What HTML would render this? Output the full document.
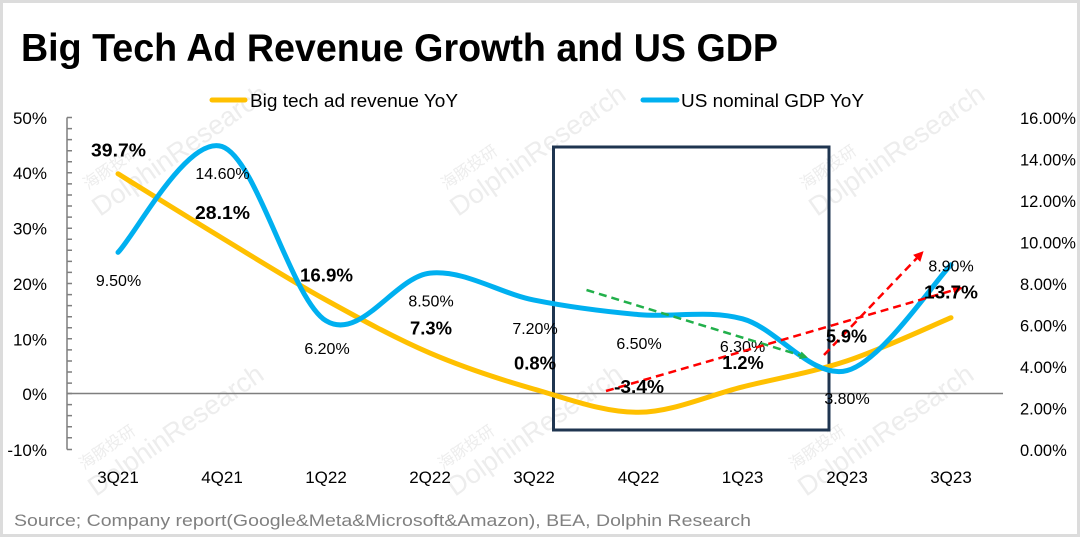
<!DOCTYPE html>
<html><head><meta charset="utf-8"><style>
html,body{margin:0;padding:0;background:#fff;}
svg{display:block;}
text{font-family:"Liberation Sans","Noto Sans CJK SC",sans-serif;}
</style></head><body>
<svg width="1080" height="537" viewBox="0 0 1080 537" xmlns="http://www.w3.org/2000/svg">
<rect x="0" y="0" width="1080" height="537" fill="#fff"/>
<rect x="1.5" y="1.5" width="1077" height="534" fill="none" stroke="#dcdcdc" stroke-width="3"/>

<!-- watermarks -->
<g fill="#ededed" font-size="27">
  <text transform="translate(100,217) rotate(-35)">DolphinResearch</text>
  <text transform="translate(458,217) rotate(-35)">DolphinResearch</text>
  <text transform="translate(817,217) rotate(-35)">DolphinResearch</text>
  <text transform="translate(96,497) rotate(-35)">DolphinResearch</text>
  <text transform="translate(455,497) rotate(-35)">DolphinResearch</text>
  <text transform="translate(806,497) rotate(-35)">DolphinResearch</text>
</g>
<g fill="#ededed" font-size="16">
  <text transform="translate(88,190) rotate(-35)">海豚投研</text>
  <text transform="translate(446,190) rotate(-35)">海豚投研</text>
  <text transform="translate(805,190) rotate(-35)">海豚投研</text>
  <text transform="translate(84,470) rotate(-35)">海豚投研</text>
  <text transform="translate(443,470) rotate(-35)">海豚投研</text>
  <text transform="translate(794,470) rotate(-35)">海豚投研</text>
</g>

<!-- title -->
<text x="21" y="61" font-size="39" font-weight="bold" fill="#000" textLength="757" lengthAdjust="spacingAndGlyphs">Big Tech Ad Revenue Growth and US GDP</text>

<!-- legend -->
<line x1="212" y1="100" x2="245" y2="100" stroke="#FFC000" stroke-width="5" stroke-linecap="round"/>
<text x="250" y="107" font-size="18" fill="#000" textLength="208" lengthAdjust="spacingAndGlyphs">Big tech ad revenue YoY</text>
<line x1="643" y1="100" x2="677" y2="100" stroke="#00B0F0" stroke-width="5" stroke-linecap="round"/>
<text x="681" y="107" font-size="18" fill="#000" textLength="183" lengthAdjust="spacingAndGlyphs">US nominal GDP YoY</text>

<!-- left axis labels -->
<g font-size="17" fill="#000" text-anchor="end">
  <text x="47" y="124">50%</text>
  <text x="47" y="179">40%</text>
  <text x="47" y="234.5">30%</text>
  <text x="47" y="290">20%</text>
  <text x="47" y="345.5">10%</text>
  <text x="47" y="400">0%</text>
  <text x="47" y="456">-10%</text>
</g>
<!-- right axis labels -->
<g font-size="16.5" fill="#000">
  <text x="1020" y="124">16.00%</text>
  <text x="1020" y="165.5">14.00%</text>
  <text x="1020" y="207">12.00%</text>
  <text x="1020" y="248.5">10.00%</text>
  <text x="1020" y="290">8.00%</text>
  <text x="1020" y="331.5">6.00%</text>
  <text x="1020" y="373">4.00%</text>
  <text x="1020" y="414.5">2.00%</text>
  <text x="1020" y="456">0.00%</text>
</g>

<!-- left axis -->
<g stroke="#7f7f7f" stroke-width="1.5">
  <line x1="67" y1="117.5" x2="67" y2="449.5"/>
  <path d="M67,117.5h5M67,128.6h5M67,139.6h5M67,150.7h5M67,161.8h5M67,172.8h5M67,183.9h5M67,195h5M67,206h5M67,217.1h5M67,228.2h5M67,239.2h5M67,250.3h5M67,261.4h5M67,272.4h5M67,283.5h5M67,294.6h5M67,305.6h5M67,316.7h5M67,327.8h5M67,338.8h5M67,349.9h5M67,361h5M67,372h5M67,383.1h5M67,393.5h5M67,404.6h5M67,415.6h5M67,426.7h5M67,437.8h5M67,449.5h5"/>
  <line x1="67" y1="393.5" x2="1003" y2="393.5"/>
</g>

<!-- x labels -->
<g font-size="17" fill="#000" text-anchor="middle">
  <text x="118" y="483">3Q21</text>
  <text x="222" y="483">4Q21</text>
  <text x="326" y="483">1Q22</text>
  <text x="430" y="483">2Q22</text>
  <text x="534" y="483">3Q22</text>
  <text x="638.5" y="483">4Q22</text>
  <text x="742.5" y="483">1Q23</text>
  <text x="847" y="483">2Q23</text>
  <text x="951" y="483">3Q23</text>
</g>

<!-- source -->
<text x="14" y="526" font-size="17" fill="#808080" textLength="737" lengthAdjust="spacingAndGlyphs">Source; Company report(Google&amp;Meta&amp;Microsoft&amp;Amazon), BEA, Dolphin Research</text>

<!-- box -->
<rect x="553.5" y="147" width="275.5" height="283" fill="none" stroke="#1f3550" stroke-width="3"/>

<!-- gold series -->
<path d="M118,173.8 C135.33,184.5 187.33,217.0 222,238.0 C256.67,259.03 291.33,280.82 326,300.0 C360.67,319.18 395.33,338.25 430,353.1 C464.67,367.95 499.33,379.23 534,389.1 C568.67,398.97 603.83,412.67 638.5,412.3 C673.17,411.93 707.83,395.47 742.5,386.9 C777.17,378.33 812.33,372.43 847,360.9 C881.67,349.37 933.67,324.9 951,317.7" fill="none" stroke="#FFC000" stroke-width="5" stroke-linecap="round" stroke-linejoin="round"/>

<!-- blue series -->
<path d="M118,252.4 C135.33,234.75 187.33,135.1 222,146.5 C256.67,157.9 291.33,299.7 326,320.8 C360.67,341.9 395.33,276.55 430,273.1 C464.67,269.65 499.33,293.18 534,300.1 C568.67,307.02 603.83,311.48 638.5,314.6 C673.17,317.72 707.83,309.47 742.5,318.8 C777.17,328.13 812.33,379.6 847,370.6 C881.67,361.6 933.67,282.43 951,264.8" fill="none" stroke="#00B0F0" stroke-width="5" stroke-linecap="round" stroke-linejoin="round"/>

<!-- blue labels -->
<g font-size="16" fill="#000" text-anchor="middle">
  <text x="118.5" y="286">9.50%</text>
  <text x="222.5" y="179">14.60%</text>
  <text x="327" y="354">6.20%</text>
  <text x="431" y="306.5">8.50%</text>
  <text x="535" y="334">7.20%</text>
  <text x="639" y="349">6.50%</text>
  <text x="742.5" y="352">6.30%</text>
  <text x="847" y="404">3.80%</text>
  <text x="951" y="271.5">8.90%</text>
</g>

<!-- arrows -->
<defs>
  <marker id="ag" markerWidth="8" markerHeight="8" refX="6" refY="4" orient="auto" markerUnits="userSpaceOnUse">
    <path d="M0,0 L8,4 L0,8 z" fill="#22b04b"/>
  </marker>
  <marker id="ar" markerWidth="10" markerHeight="10" refX="7" refY="5" orient="auto" markerUnits="userSpaceOnUse">
    <path d="M0,0 L10,5 L0,10 z" fill="#ff0000"/>
  </marker>
</defs>
<line x1="586.5" y1="290" x2="806" y2="357" stroke="#22b04b" stroke-width="2.5" stroke-dasharray="8,5" marker-end="url(#ag)"/>
<line x1="606" y1="391" x2="960" y2="288.3" stroke="#ff0000" stroke-width="2.5" stroke-dasharray="8,5" marker-end="url(#ar)"/>
<line x1="824" y1="355" x2="921.5" y2="253.3" stroke="#ff0000" stroke-width="2.5" stroke-dasharray="8,5" marker-end="url(#ar)"/>

<!-- gold labels -->
<g font-size="18" font-weight="bold" fill="#000" text-anchor="middle">
  <text x="118.5" y="156.5" textLength="55" lengthAdjust="spacingAndGlyphs">39.7%</text>
  <text x="222.5" y="219" textLength="55" lengthAdjust="spacingAndGlyphs">28.1%</text>
  <text x="326.5" y="281.5" textLength="53" lengthAdjust="spacingAndGlyphs">16.9%</text>
  <text x="431" y="334.5" textLength="42" lengthAdjust="spacingAndGlyphs">7.3%</text>
  <text x="535" y="369.5" textLength="42" lengthAdjust="spacingAndGlyphs">0.8%</text>
  <text x="639" y="393" textLength="50" lengthAdjust="spacingAndGlyphs">-3.4%</text>
  <text x="743" y="369" textLength="41.5" lengthAdjust="spacingAndGlyphs">1.2%</text>
  <text x="846.5" y="342.5" textLength="41" lengthAdjust="spacingAndGlyphs">5.9%</text>
  <text x="951" y="298.5" textLength="54" lengthAdjust="spacingAndGlyphs">13.7%</text>
</g>
</svg>
</body></html>
